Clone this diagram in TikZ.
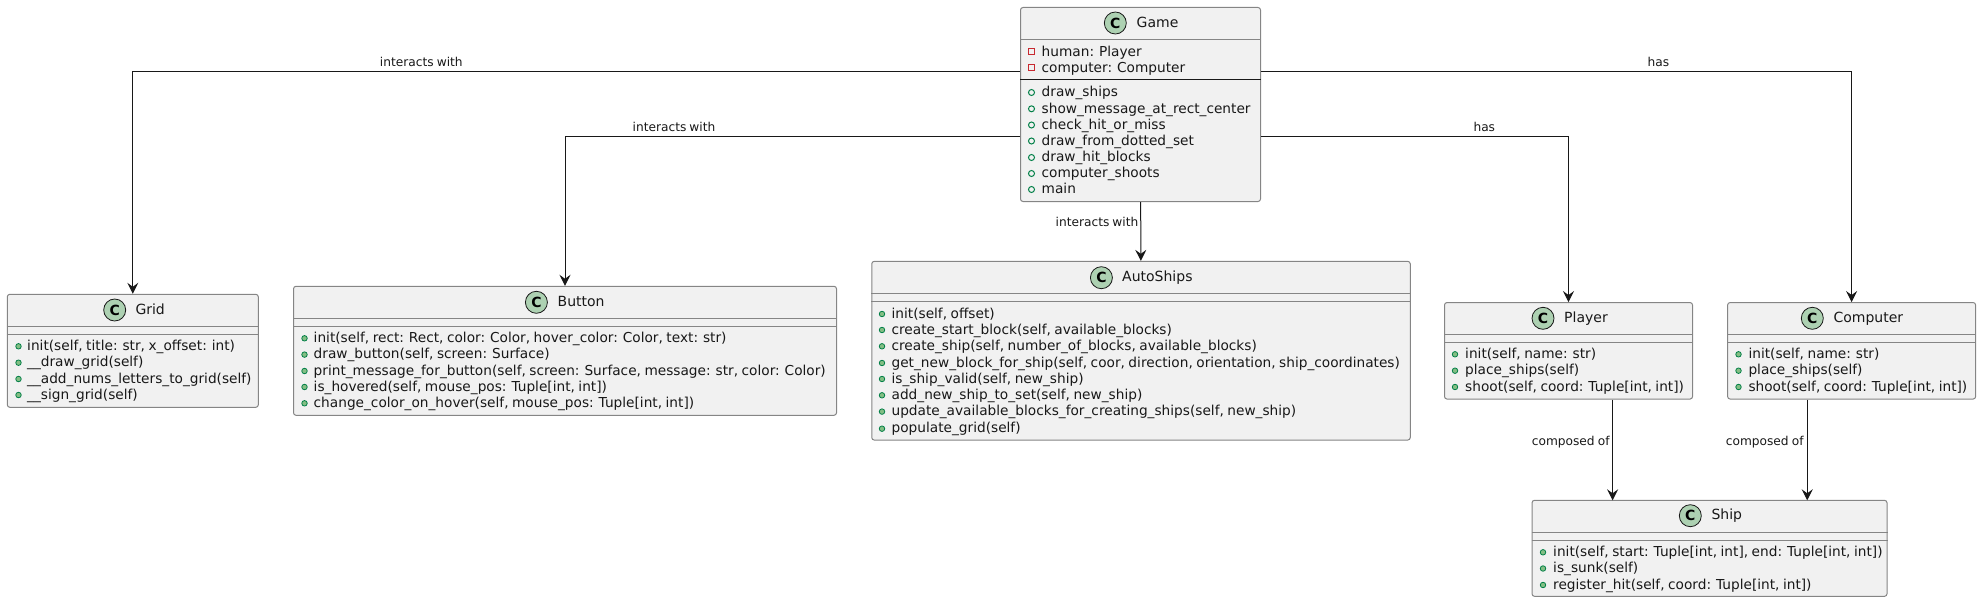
\documentclass[tikz,border=0pt]{standalone}
\usepackage{fontspec}
\setmainfont[WordSpace=0.8]{DejaVu Sans}
\usetikzlibrary{arrows.meta}
\definecolor{boxfill}{HTML}{F1F1F1}
\definecolor{boxline}{HTML}{858585}
\definecolor{ink}{HTML}{181818}
\definecolor{badgefill}{HTML}{ADD1B2}
\definecolor{publine}{HTML}{038048}
\definecolor{pubfill}{HTML}{84BE84}
\definecolor{privline}{HTML}{C82930}

\begin{document}
\begin{tikzpicture}[x=1pt, y=-1pt]
    \tikzstyle{classbox}=[draw=boxline, fill=boxfill, line width=1pt, rounded corners=2.5pt, inner sep=0pt]
    \tikzstyle{badge}=[circle, draw=ink, fill=badgefill, line width=.8pt, minimum size=22pt, inner sep=0pt, font=\fontsize{14}{14}\selectfont\bfseries]
    \tikzstyle{title}=[anchor=west, inner sep=0pt, text=ink, text height=11.5pt, text depth=3pt, font=\fontsize{14}{16}\selectfont]
    \tikzstyle{member}=[anchor=west, inner sep=0pt, text=ink, text height=11.5pt, text depth=3pt, font=\fontsize{13.7}{16}\selectfont]
    \tikzstyle{pub}=[circle, draw=publine, fill=pubfill, line width=.8pt, minimum size=5.5pt, inner sep=0pt]
    \tikzstyle{pubo}=[circle, draw=publine, fill=none, line width=1pt, minimum size=6pt, inner sep=0pt]
    \tikzstyle{priv}=[rectangle, draw=privline, line width=1pt, minimum size=6pt, inner sep=0pt]
    \tikzstyle{sep}=[draw=boxline, line width=1pt]
    \tikzstyle{conn}=[draw=ink, line width=1pt, -{Stealth[length=11pt, width=11pt, inset=4pt]}]
    \tikzstyle{lbl}=[inner sep=0pt, text=ink, text height=9.5pt, text depth=2.5pt, font=\fontsize{12.2}{14}\selectfont]

    \useasboundingbox (0,0) rectangle (1981,602);

    % Game
    \node[classbox, minimum width=240pt, minimum height=194pt] (game) at (1140.5,104.5) {};
    \node[badge] (gamec) at (1115.3,23) {C};
    \node[title] (gamet) at (1136.5,23) {Game};
    \draw[sep] (game.west |- 0,39.5) -- (game.east |- 0,39.5);
    \draw[draw=ink, line width=1pt] (game.west |- 0,79.5) -- (game.east |- 0,79.5);
    \foreach \y/\t [count=\i] in {52/{human: Player}, 68/{computer: Computer}} {
      \node[priv] (gamem\i) at (1031.5,\y) {};
      \node[member] (gamef\i) at (1041.5,\y) {\t};
    }
    \foreach \y/\t [count=\i] in {92.5/{draw\_ships}, 108.8/{show\_message\_at\_rect\_center}, 125/{check\_hit\_or\_miss}, 141/{draw\_from\_dotted\_set}, 157.5/{draw\_hit\_blocks}, 173.5/{computer\_shoots}, 189.5/{main}} {
      \node[pubo] (gamep\i) at (1031.5,\y) {};
      \node[member] (gamet\i) at (1041.5,\y) {\t};
    }

    % Grid
    \node[classbox, minimum width=251pt, minimum height=113pt] (grid) at (132.8,350.8) {};
    \node[badge] (gridc) at (114.7,310) {C};
    \node[title] (gridt) at (135.3,310) {Grid};
    \draw[sep] (grid.west |- 0,326.3) -- (grid.east |- 0,326.3);
    \draw[sep] (grid.west |- 0,334.3) -- (grid.east |- 0,334.3);
    \foreach \y/\t [count=\i] in {346.3/{init(self, title: str, x\_offset: int)}, 362.7/{\_\_draw\_grid(self)}, 379/{\_\_add\_nums\_letters\_to\_grid(self)}, 395/{\_\_sign\_grid(self)}} {
      \node[pub] (gridm\i) at (18.5,\y) {};
      \node[member] (gridr\i) at (27,\y) {\t};
    }

    % Button
    \node[classbox, minimum width=543pt, minimum height=129pt] (button) at (565,350.8) {};
    \node[badge] (buttonc) at (536.4,302.3) {C};
    \node[title] (buttont) at (557.5,302.3) {Button};
    \draw[sep] (button.west |- 0,318.3) -- (button.east |- 0,318.3);
    \draw[sep] (button.west |- 0,326.3) -- (button.east |- 0,326.3);
    \foreach \y/\t [count=\i] in {338.3/{init(self, rect: Rect, color: Color, hover\_color: Color, text: str)}, 354.6/{draw\_button(self, screen: Surface)}, 371/{print\_message\_for\_button(self, screen: Surface, message: str, color: Color)}, 387/{is\_hovered(self, mouse\_pos: Tuple[int, int])}, 403.3/{change\_color\_on\_hover(self, mouse\_pos: Tuple[int, int])}} {
      \node[pub] (buttonm\i) at (304.5,\y) {};
      \node[member] (buttonr\i) at (313.5,\y) {\t};
    }

    % AutoShips
    \node[classbox, minimum width=538.5pt, minimum height=178.7pt] (auto) at (1141,350.7) {};
    \node[badge] (autoc) at (1101.4,277.7) {C};
    \node[title] (autot) at (1122,277.7) {AutoShips};
    \draw[sep] (auto.west |- 0,293.3) -- (auto.east |- 0,293.3);
    \draw[sep] (auto.west |- 0,301.3) -- (auto.east |- 0,301.3);
    \foreach \y/\t [count=\i] in {314/{init(self, offset)}, 330/{create\_start\_block(self, available\_blocks)}, 346.3/{create\_ship(self, number\_of\_blocks, available\_blocks)}, 363/{get\_new\_block\_for\_ship(self, coor, direction, orientation, ship\_coordinates)}, 379/{is\_ship\_valid(self, new\_ship)}, 395.3/{add\_new\_ship\_to\_set(self, new\_ship)}, 411.6/{update\_available\_blocks\_for\_creating\_ships(self, new\_ship)}, 428.7/{populate\_grid(self)}} {
      \node[pub] (autom\i) at (882,\y) {};
      \node[member] (autor\i) at (891.4,\y) {\t};
    }

    % Player
    \node[classbox, minimum width=248pt, minimum height=96.5pt] (player) at (1568.5,350.8) {};
    \node[badge] (playerc) at (1543,318.3) {C};
    \node[title] (playert) at (1564,318.3) {Player};
    \draw[sep] (player.west |- 0,334.3) -- (player.east |- 0,334.3);
    \draw[sep] (player.west |- 0,342.3) -- (player.east |- 0,342.3);
    \foreach \y/\t [count=\i] in {354.3/{init(self, name: str)}, 370.7/{place\_ships(self)}, 387/{shoot(self, coord: Tuple[int, int])}} {
      \node[pub] (playerm\i) at (1455,\y) {};
      \node[member] (playerr\i) at (1465,\y) {\t};
    }

    % Computer
    \node[classbox, minimum width=248pt, minimum height=96.5pt] (computer) at (1851.6,350.8) {};
    \node[badge] (computerc) at (1812.3,318.3) {C};
    \node[title] (computert) at (1833.4,318.3) {Computer};
    \draw[sep] (computer.west |- 0,334.3) -- (computer.east |- 0,334.3);
    \draw[sep] (computer.west |- 0,342.3) -- (computer.east |- 0,342.3);
    \foreach \y/\t [count=\i] in {354.3/{init(self, name: str)}, 370.7/{place\_ships(self)}, 387/{shoot(self, coord: Tuple[int, int])}} {
      \node[pub] (computerm\i) at (1738.5,\y) {};
      \node[member] (computerr\i) at (1748.3,\y) {\t};
    }

    % Ship
    \node[classbox, minimum width=355pt, minimum height=96pt] (ship) at (1709.5,548.3) {};
    \node[badge] (shipc) at (1690.3,515.7) {C};
    \node[title] (shipt) at (1711.3,515.7) {Ship};
    \draw[sep] (ship.west |- 0,532.3) -- (ship.east |- 0,532.3);
    \draw[sep] (ship.west |- 0,540.3) -- (ship.east |- 0,540.3);
    \foreach \y/\t [count=\i] in {552.3/{init(self, start: Tuple[int, int], end: Tuple[int, int])}, 568.5/{is\_sunk(self)}, 585/{register\_hit(self, coord: Tuple[int, int])}} {
      \node[pub] (shipm\i) at (1543,\y) {};
      \node[member] (shipr\i) at (1553,\y) {\t};
    }

    \coordinate (shipa) at (1612.6,500.3);
    \coordinate (shipb) at (1807.2,500.3);

    \draw[conn] ([yshift=33.2pt]game.west) -| (grid);
    \draw[conn] ([yshift=-31.8pt]game.west) -| (button);
    \draw[conn] (game) -- (auto);
    \draw[conn] ([yshift=-31.8pt]game.east) -| (player);
    \draw[conn] ([yshift=33.2pt]game.east) -| (computer);
    \draw[conn] (player.south -| shipa) -- (shipa);
    \draw[conn] (computer.south -| shipb) -- (shipb);

    \node[lbl] (lgrid) at (421.3,63.3) {interacts with};
    \node[lbl] (lbutton) at (674,128.3) {interacts with};
    \node[lbl] (lauto) at (1097,223) {interacts with};
    \node[lbl] (lplayer) at (1484.3,128.3) {has};
    \node[lbl] (lcomputer) at (1658.3,63.3) {has};
    \node[lbl] (lshipa) at (1570.7,441.7) {composed of};
    \node[lbl] (lshipb) at (1764.7,441.7) {composed of};
\end{tikzpicture}
\end{document}
